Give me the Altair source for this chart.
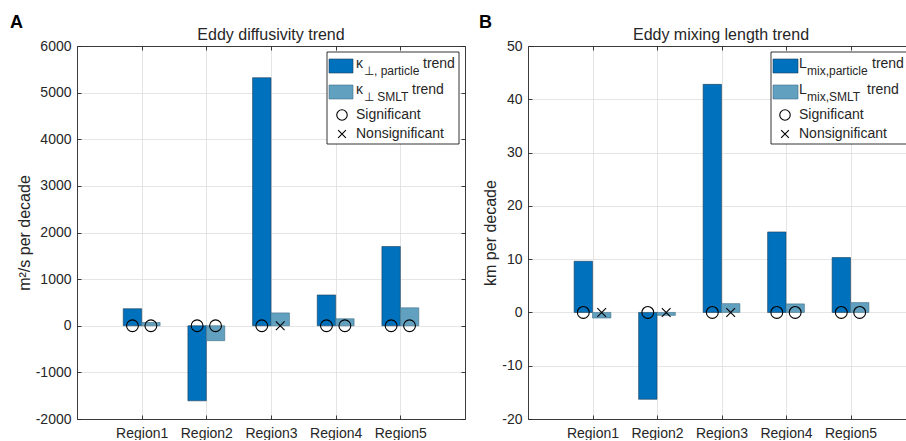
import altair as alt
import pandas as pd

# ---- data -------------------------------------------------------------
regions = ["Region1", "Region2", "Region3", "Region4", "Region5"]

kappa_particle = [365, -1610, 5320, 660, 1700]
kappa_smlt = [70, -320, 275, 150, 385]
kappa_particle_sig = [True, True, True, True, True]
kappa_smlt_sig = [True, True, False, True, True]

lmix_particle = [9.6, -16.3, 42.8, 15.1, 10.3]
lmix_smlt = [-1.05, -0.55, 1.65, 1.6, 1.85]
lmix_particle_sig = [True, True, True, True, True]
lmix_smlt_sig = [False, False, False, True, True]

kappa_ticks = list(range(-2000, 6001, 1000))
lmix_ticks = list(range(-20, 51, 10))

# ---- style ------------------------------------------------------------
BAR_W = 0.285
BLUE = "#0072BD"
TEAL = "#62A0C0"
BLUE_EDGE = "#1d3c57"
TEAL_EDGE = "#3f6f88"
INK = "#262626"
FONT = "Liberation Sans"
X_PATH = "M-1,-1L1,1M1,-1L-1,1"
PLOT_H = 373
TICK = 4


def table(particle, smlt, p_sig, s_sig):
    rows = []
    for i, name in enumerate(regions, start=1):
        rows.append(dict(region=name, series="particle", x0=i - BAR_W, x1=i,
                         xc=i - BAR_W / 2, value=particle[i - 1], zero=0,
                         sig=p_sig[i - 1]))
        rows.append(dict(region=name, series="SMLT", x0=i, x1=i + BAR_W,
                         xc=i + BAR_W / 2, value=smlt[i - 1], zero=0,
                         sig=s_sig[i - 1]))
    return pd.DataFrame(rows)


one = pd.DataFrame({"k": [0]})


def txt(s, x, y, size=14, align="left", baseline="alphabetic", clip=False, **kw):
    kw.setdefault("color", INK)
    return alt.Chart(one).mark_text(
        text=s, fontSize=size, font=FONT, align=align, baseline=baseline,
        clip=clip, **kw
    ).encode(x=alt.value(x), y=alt.value(y))


def box(x, x2, y, y2, fill, stroke, sw=0.8, clip=False):
    return alt.Chart(one).mark_rect(
        fill=fill, stroke=stroke, strokeWidth=sw, clip=clip
    ).encode(x=alt.value(x), x2=alt.value(x2), y=alt.value(y), y2=alt.value(y2))


def sym(shape, x, y, size):
    return alt.Chart(one).mark_point(
        shape=shape, size=size, filled=False, color="black", strokeWidth=1.1, opacity=1
    ).encode(x=alt.value(x), y=alt.value(y))


def panel(df, ydom, yticks, ytitle, title, width, xmax, letter, letter_x,
          title_x, legend, right_frame=True):
    xs = alt.Scale(domain=[0, xmax], nice=False, zero=False)
    ys = alt.Scale(domain=ydom, nice=False, zero=False)
    xpos = [1, 2, 3, 4, 5]
    label_expr = "[" + ",".join(f"'{r}'" for r in regions) + "][datum.value - 1]"

    # main axes: labels, grid and the left/bottom frame lines
    ax_x = alt.Axis(orient="bottom", values=xpos, labelExpr=label_expr, grid=True,
                    ticks=False, domain=True, title=None, labelPadding=7,
                    labelOverlap=False, labelFlush=False)
    ax_y = alt.Axis(orient="left", values=yticks, labelExpr="datum.value + ''",
                    grid=True, ticks=False, domain=True, title=ytitle,
                    labelPadding=6, titlePadding=3, labelOverlap=False,
                    labelFlush=False)
    # inward tick marks on the bottom/left
    tk_x = alt.Axis(orient="bottom", values=xpos, labels=False, grid=False,
                    domain=False, ticks=True, tickSize=TICK, offset=-TICK, title=None)
    tk_y = alt.Axis(orient="left", values=yticks, labels=False, grid=False,
                    domain=False, ticks=True, tickSize=TICK, offset=-TICK, title=None)
    # top/right frame lines and their inward ticks
    fr_x = alt.Axis(orient="top", values=xpos, labels=False, grid=False,
                    domain=True, ticks=False, title=None)
    fr_y = alt.Axis(orient="right", values=yticks, labels=False, grid=False,
                    domain=True, ticks=False, title=None) if right_frame else None
    tt_x = alt.Axis(orient="top", values=xpos, labels=False, grid=False,
                    domain=False, ticks=True, tickSize=TICK, offset=-TICK, title=None)
    tt_y = alt.Axis(orient="right", values=yticks, labels=False, grid=False,
                    domain=False, ticks=True, tickSize=TICK, offset=-TICK,
                    title=None) if right_frame else None

    base = alt.Chart(df)
    bars_p = base.transform_filter("datum.series == 'particle'").mark_bar(
        color=BLUE, stroke=BLUE_EDGE, strokeWidth=0.6
    ).encode(
        x=alt.X("x0:Q", scale=xs, axis=ax_x), x2="x1:Q",
        y=alt.Y("value:Q", scale=ys, axis=ax_y), y2="zero:Q",
    )
    bars_s = base.transform_filter("datum.series == 'SMLT'").mark_bar(
        color=TEAL, stroke=TEAL_EDGE, strokeWidth=0.6
    ).encode(
        x=alt.X("x0:Q", scale=xs, axis=tk_x), x2="x1:Q",
        y=alt.Y("value:Q", scale=ys, axis=tk_y), y2="zero:Q",
    )
    circles = base.transform_filter("datum.sig").mark_point(
        shape="circle", size=140, filled=False, color="black", strokeWidth=1.1, opacity=1
    ).encode(
        x=alt.X("xc:Q", scale=xs, axis=fr_x),
        y=alt.Y("zero:Q", scale=ys, axis=fr_y),
    )
    crosses = base.transform_filter("!datum.sig").mark_point(
        shape=X_PATH, size=76, filled=False, color="black", strokeWidth=1.1, opacity=1
    ).encode(
        x=alt.X("xc:Q", scale=xs, axis=tt_x),
        y=alt.Y("zero:Q", scale=ys, axis=tt_y),
    )

    head = [
        txt(letter, letter_x, -18, size=18, fontWeight="bold", color="black"),
        txt(title, title_x, -6, size=16, align="center"),
    ]
    return alt.layer(bars_p, bars_s, circles, crosses, *legend, *head).resolve_axis(
        x="independent", y="independent"
    ).properties(width=width, height=PLOT_H)


# ---- legends ------------------------------------------------------------
legend_a = [
    box(250, 382, 6, 98, "white", "black"),
    box(252, 276, 13, 27, BLUE, BLUE_EDGE, 0.6),
    box(252, 276, 39, 53, TEAL, TEAL_EDGE, 0.6),
    txt("κ", 279, 22),
    txt("⊥, particle", 287, 29, size=12),
    txt("trend", 346, 22),
    txt("κ", 279, 48),
    txt("⊥ SMLT", 287, 55, size=12),
    txt("trend", 335, 48),
    sym("circle", 265, 69, 110),
    txt("Significant", 279, 69, baseline="middle"),
    sym(X_PATH, 265, 88, 60),
    txt("Nonsignificant", 279, 88, baseline="middle"),
]

legend_b = [
    box(243, 392, 6, 98, "white", "black", clip=True),
    box(245, 270, 13, 27, BLUE, BLUE_EDGE, 0.6),
    box(245, 270, 39, 53, TEAL, TEAL_EDGE, 0.6),
    txt("L", 271, 22),
    txt("mix,particle", 279, 29, size=12),
    txt("trend", 344, 22, clip=True),
    txt("L", 271, 48),
    txt("mix,SMLT", 279, 55, size=12),
    txt("trend", 339, 48, clip=True),
    sym("circle", 257, 69, 110),
    txt("Significant", 271, 69, baseline="middle"),
    sym(X_PATH, 257, 88, 60),
    txt("Nonsignificant", 271, 88, baseline="middle"),
]

df_a = table(kappa_particle, kappa_smlt, kappa_particle_sig, kappa_smlt_sig)
df_b = table(lmix_particle, lmix_smlt, lmix_particle_sig, lmix_smlt_sig)

panel_a = panel(df_a, [-2000, 6000], kappa_ticks, "m²/s per decade",
                "Eddy diffusivity trend", 388, 6, "A", -67, 194, legend_a)
panel_b = panel(df_b, [-20, 50], lmix_ticks, "km per decade",
                "Eddy mixing length trend", 378, 378 / 64.5, "B", -49, 193,
                legend_b, right_frame=False)

chart = alt.hconcat(panel_a, panel_b, spacing=63, bounds="flush").properties(
    padding={"left": 10, "top": 14, "right": 0, "bottom": 0}
).configure_view(stroke=None).configure_axis(
    labelFont=FONT, labelFontSize=14, labelColor=INK,
    titleFont=FONT, titleFontSize=16, titleFontWeight="normal", titleColor=INK,
    domainColor=INK, domainWidth=0.9, tickColor=INK, tickWidth=0.9,
    gridColor="#dedede", gridWidth=0.8,
)

chart.save("out.html", embed_options={"renderer": "svg", "actions": False})
